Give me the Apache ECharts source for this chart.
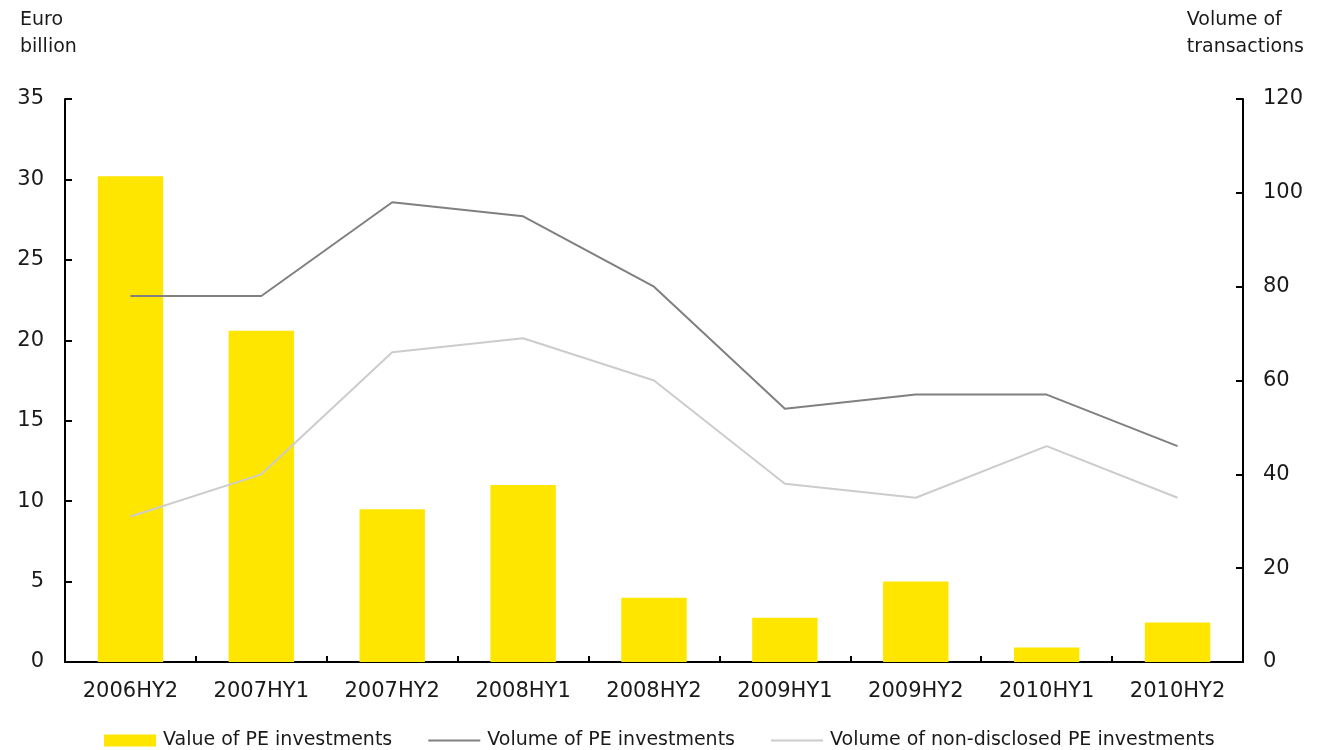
<!DOCTYPE html>
<html>
<head>
<meta charset="utf-8">
<script src="https://cdn.jsdelivr.net/npm/echarts@6/dist/echarts.min.js"></script>
<style>
  html, body { margin: 0; padding: 0; background: #fff; }
  #chart { width: 1324px; height: 750px; }
</style>
</head>
<body>
<div id="chart"></div>
<script>
// Half-year periods
const periods = ['2006HY2', '2007HY1', '2007HY2', '2008HY1', '2008HY2', '2009HY1', '2009HY2', '2010HY1', '2010HY2'];
// Value of PE investments, euro billion
const peValue = [30.2, 20.6, 9.5, 11.0, 4.0, 2.75, 5.0, 0.9, 2.45];
// Number of PE transactions
const peVolume = [78, 78, 98, 95, 80, 54, 57, 57, 46];
// Number of PE transactions with undisclosed value
const peVolumeUndisclosed = [31, 40, 66, 69, 60, 38, 35, 46, 35];

const FONT = 'DejaVu Sans';
const FS = 21;
const FS_SMALL = 19;
const TXT = '#1a1a1a';
const LINE_ICON = 'path://M0 0H52V2H0Z';

const chart = echarts.init(document.getElementById('chart'));
chart.setOption({
  animation: false,
  textStyle: { fontFamily: FONT, color: TXT },
  grid: { left: 65, right: 81, top: 99, bottom: 88 },
  legend: {
    top: 731,
    left: 104,
    padding: 0,
    itemWidth: 52,
    itemHeight: 12,
    itemGap: 36,
    symbolKeepAspect: true,
    textStyle: { fontFamily: FONT, fontSize: FS_SMALL, color: TXT, padding: [0, 0, 0, 2] },
    data: [
      { name: 'Value of PE investments', icon: 'rect' },
      { name: 'Volume of PE investments', icon: LINE_ICON },
      { name: 'Volume of non-disclosed PE investments', icon: LINE_ICON }
    ]
  },
  graphic: [
    { type: 'text', left: 20, top: 7, style: { text: 'Euro\nbillion', font: FS_SMALL + 'px "' + FONT + '"', fill: TXT, lineHeight: 27 } },
    { type: 'text', right: 20, top: 7, style: { text: 'Volume of\ntransactions', font: FS_SMALL + 'px "' + FONT + '"', fill: TXT, lineHeight: 27, align: 'right' } }
  ],
  xAxis: {
    type: 'category',
    data: periods,
    axisLine: { lineStyle: { color: '#000', width: 2 } },
    axisTick: { show: true, inside: true, length: 6, alignWithLabel: false, lineStyle: { color: '#000', width: 2 } },
    axisLabel: { fontFamily: FONT, fontSize: FS, color: TXT, margin: 19 }
  },
  yAxis: [
    {
      type: 'value', min: 0, max: 35, interval: 5,
      axisLine: { show: true, lineStyle: { color: '#000', width: 2 } },
      axisTick: { show: true, inside: true, length: 7, lineStyle: { color: '#000', width: 2 } },
      splitLine: { show: false },
      axisLabel: { fontFamily: FONT, fontSize: FS, color: TXT, margin: 21 }
    },
    {
      type: 'value', min: 0, max: 120, interval: 20,
      axisLine: { show: true, lineStyle: { color: '#000', width: 2 } },
      axisTick: { show: true, inside: true, length: 7, lineStyle: { color: '#000', width: 2 } },
      splitLine: { show: false },
      axisLabel: { fontFamily: FONT, fontSize: FS, color: TXT, margin: 20 }
    }
  ],
  series: [
    {
      name: 'Value of PE investments',
      type: 'bar',
      yAxisIndex: 0,
      data: peValue,
      barWidth: '50%',
      itemStyle: { color: '#ffe600' }
    },
    {
      name: 'Volume of PE investments',
      type: 'line',
      yAxisIndex: 1,
      data: peVolume,
      symbol: 'none',
      lineStyle: { color: '#808080', width: 2 },
      itemStyle: { color: '#808080' }
    },
    {
      name: 'Volume of non-disclosed PE investments',
      type: 'line',
      yAxisIndex: 1,
      data: peVolumeUndisclosed,
      symbol: 'none',
      lineStyle: { color: '#cccccc', width: 2 },
      itemStyle: { color: '#cccccc' }
    }
  ]
});
</script>
</body>
</html>
